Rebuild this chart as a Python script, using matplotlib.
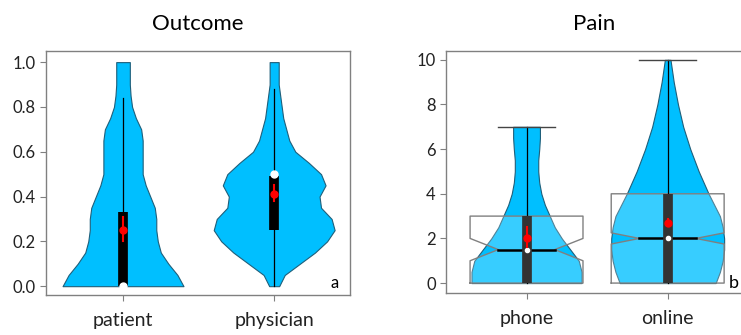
import matplotlib
matplotlib.use("Agg")
import matplotlib.pyplot as plt
import numpy as np

plt.rcParams["font.family"] = ["Lato", "DejaVu Sans"]

# --- panel a: Outcome (violin half-widths) ---
out_groups = ["patient", "physician"]
out_y = [0.0, 0.05, 0.1, 0.15, 0.2, 0.25, 0.3, 0.35, 0.4, 0.45, 0.5, 0.55,
         0.6, 0.65, 0.7, 0.75, 0.8, 0.85, 0.9, 0.95, 1.0]
out_w_patient = [0.40, 0.36, 0.30, 0.25, 0.23, 0.22, 0.22, 0.21, 0.18, 0.15, 0.13, 0.13,
                 0.13, 0.13, 0.12, 0.085, 0.06, 0.05, 0.045, 0.045, 0.045]
out_w_physician = [0.033, 0.07, 0.17, 0.27, 0.35, 0.40, 0.38, 0.31, 0.30, 0.34, 0.31, 0.23,
                   0.14, 0.10, 0.08, 0.06, 0.05, 0.04, 0.03, 0.03, 0.03]
out_q1 = [0.0, 0.25]
out_q3 = [0.33, 0.49]
out_whi = [0.84, 0.88]
out_med = [0.0, 0.5]
out_mean = [0.25, 0.41]
out_ci_lo = [0.20, 0.38]
out_ci_hi = [0.31, 0.45]

# --- panel b: Pain ---
pain_groups = ["phone", "online"]
pain_y_phone = [0, 0.5, 1, 1.5, 2, 2.5, 3, 3.5, 4, 4.5, 5, 5.5, 6, 6.5, 7]
pain_w_phone = [0.39, 0.39, 0.37, 0.31, 0.25, 0.20, 0.165, 0.13, 0.105, 0.09, 0.083, 0.083,
                0.09, 0.095, 0.095]
pain_y_online = [0, 0.5, 1, 1.5, 2, 2.5, 3, 3.5, 4, 5, 6, 7, 8, 9, 10]
pain_w_online = [0.34, 0.37, 0.39, 0.40, 0.40, 0.39, 0.37, 0.33, 0.29, 0.22, 0.16, 0.11,
                 0.073, 0.043, 0.02]
pain_q1 = [0, 0]
pain_q3 = [3, 4]
pain_med = [1.5, 2]
pain_whi = [7, 10]
pain_notch_lo = [1.0, 1.75]
pain_notch_hi = [2.0, 2.25]
pain_mean = [2.0, 2.7]
pain_ci_lo = [1.6, 2.55]
pain_ci_hi = [2.5, 2.85]

VIOLIN = "#00bfff"
EDGE = "#1f5f7a"
SPINE = "#808080"

fig = plt.figure(figsize=(7.41, 3.35), dpi=100)
ax1 = fig.add_axes([0.062, 0.119, 0.41, 0.729])
ax2 = fig.add_axes([0.602, 0.125, 0.40, 0.723])


def style(ax):
    for s in ax.spines.values():
        s.set_color(SPINE)
        s.set_linewidth(1.0)
    ax.tick_params(colors="#222222", labelsize=12, length=4, width=0.8)
    ax.tick_params(axis="x", color=SPINE, labelsize=14, pad=8)
    ax.tick_params(axis="y", color=SPINE)


# panel a
for i, w in enumerate([out_w_patient, out_w_physician]):
    p = i + 1
    w = np.array(w)
    ax1.fill_betweenx(out_y, p - w, p + w, color=VIOLIN, ec=EDGE, lw=0.8, zorder=1)
    ax1.plot([p, p], [0, out_whi[i]], color="black", lw=0.9, zorder=2)
    ax1.plot([p, p], [out_q1[i], out_q3[i]], color="black", lw=7, solid_capstyle="butt", zorder=3)
    ax1.plot(p, out_med[i], "o", color="white", ms=5, zorder=4)
    ax1.plot([p, p], [out_ci_lo[i], out_ci_hi[i]], color="red", lw=1.5, zorder=5)
    ax1.plot(p, out_mean[i], "o", color="red", ms=5, zorder=5)

ax1.set_xlim(0.49, 2.5)
ax1.set_ylim(-0.04, 1.05)
ax1.set_xticks([1, 2])
ax1.set_xticklabels(out_groups)
ax1.set_yticks(np.arange(0, 1.01, 0.2))
ax1.set_yticklabels([f"{v:.1f}" for v in np.arange(0, 1.01, 0.2)])
ax1.set_title("Outcome", fontsize=16, pad=15)
ax1.text(0.95, 0.05, "a", transform=ax1.transAxes, fontsize=12, ha="center", va="center")
style(ax1)

# panel b
pain_y = [pain_y_phone, pain_y_online]
pain_w = [pain_w_phone, pain_w_online]
bw = 0.40
nw = 0.20
for i in range(2):
    p = i + 1
    w = np.array(pain_w[i])
    ax2.fill_betweenx(pain_y[i], p - w, p + w, color=VIOLIN, ec=EDGE, lw=0.8, zorder=1)
    # notched box
    bx = [p - bw, p - bw, p - nw, p - bw, p - bw, p + bw, p + bw, p + nw, p + bw, p + bw, p - bw]
    by = [pain_q1[i], pain_notch_lo[i], pain_med[i], pain_notch_hi[i], pain_q3[i],
          pain_q3[i], pain_notch_hi[i], pain_med[i], pain_notch_lo[i], pain_q1[i], pain_q1[i]]
    ax2.fill(bx, by, facecolor="white", alpha=0.22, zorder=2)
    ax2.plot(bx, by, color=SPINE, lw=1.0, zorder=2)
    ax2.plot([p - nw, p + nw], [pain_med[i]] * 2, color="black", lw=1.8, zorder=3)
    ax2.plot([p, p], [0, pain_whi[i]], color="black", lw=0.9, zorder=2)
    ax2.plot([p - nw, p + nw], [pain_whi[i]] * 2, color="#444444", lw=1.0, zorder=2)
    ax2.plot([p, p], [pain_q1[i], pain_q3[i]], color="#333333", lw=7, solid_capstyle="butt", zorder=3)
    ax2.plot(p, pain_med[i], "o", color="white", ms=3, zorder=4)
    ax2.plot([p, p], [pain_ci_lo[i], pain_ci_hi[i]], color="red", lw=1.5, zorder=5)
    ax2.plot(p, pain_mean[i], "o", color="red", ms=5, zorder=5)

ax2.set_xlim(0.43, 2.53)
ax2.set_ylim(-0.45, 10.4)
ax2.set_xticks([1, 2])
ax2.set_xticklabels(pain_groups)
ax2.set_yticks(range(0, 11, 2))
ax2.set_title("Pain", fontsize=16, pad=15)
fig.text(0.997, 0.155, "b", fontsize=13, ha="right", va="center")
style(ax2)

fig.savefig("out.png", dpi=100)
